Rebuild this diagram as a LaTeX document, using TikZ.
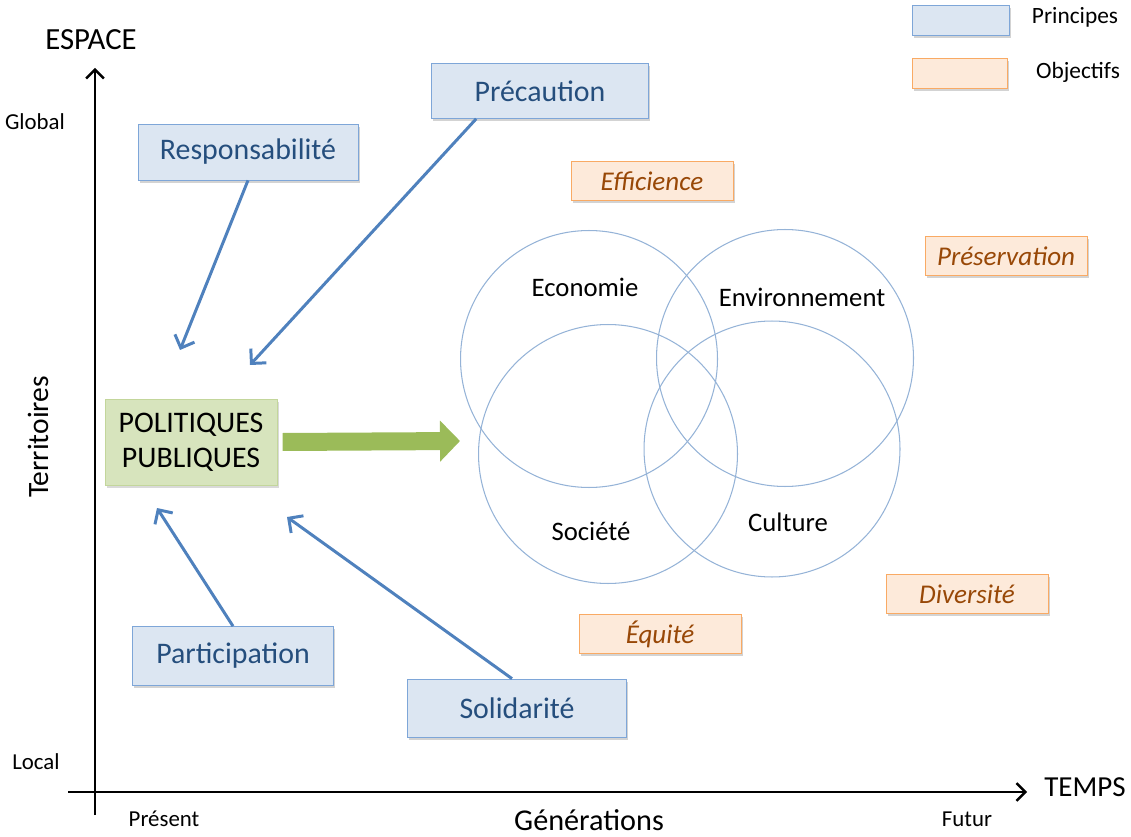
\documentclass[tikz,border=0pt]{standalone}
\usepackage{fontspec}
\setmainfont{Carlito}
\usepackage{tikz}
\usetikzlibrary{arrows.meta,shadows}

\definecolor{prinfill}{RGB}{220,230,242}
\definecolor{prindraw}{RGB}{126,166,216}
\definecolor{printext}{RGB}{37,78,125}
\definecolor{objfill}{RGB}{253,234,218}
\definecolor{objdraw}{RGB}{249,170,100}
\definecolor{objtext}{RGB}{152,72,7}
\definecolor{polfill}{RGB}{215,228,189}
\definecolor{poldraw}{RGB}{195,214,155}
\definecolor{flow}{RGB}{155,187,89}
\definecolor{link}{RGB}{79,129,189}
\definecolor{ring}{RGB}{149,179,215}

\tikzset{
  principe/.style={draw=prindraw, fill=prinfill, text=printext, font=\fontsize{17}{20}\selectfont,
    inner sep=0pt, drop shadow={opacity=0.35, shadow xshift=1pt, shadow yshift=-1.5pt}},
  objectif/.style={draw=objdraw, fill=objfill, text=objtext, font=\fontsize{15.4}{18}\selectfont\itshape,
    inner sep=0pt, minimum width=3.24cm, minimum height=0.78cm,
    drop shadow={opacity=0.35, shadow xshift=1pt, shadow yshift=-1.5pt}},
  pointe/.style={link, line width=1.7pt, -{Straight Barb[length=6pt, width=12pt]}},
  sphere/.style={font=\fontsize{15.2}{18}\selectfont},
  petit/.style={font=\fontsize{13}{15}\selectfont}
}

\begin{document}
\begin{tikzpicture}[x=0.02cm, y=-0.02cm]
  \useasboundingbox (0,0) rectangle (1131,837);

  % axes
  \draw[line width=1.4pt, -{Straight Barb[length=5pt, width=10pt]}] (95,815) -- (95,68);
  \draw[line width=1.4pt, -{Straight Barb[length=5pt, width=10pt]}] (68,792) -- (1027,792);
  \node[font=\fontsize{17.5}{20}\selectfont] (espace) at (91,40) {ESPACE};
  \node[font=\fontsize{16.5}{20}\selectfont] (temps) at (1085,787) {TEMPS};
  \node[petit] (global) at (35,122) {Global};
  \node[petit] (local) at (36,762) {Local};
  \node[font=\fontsize{16.8}{20}\selectfont, rotate=90] (terr) at (38,437) {Territoires};
  \node[petit] (present) at (164,819) {Présent};
  \node[petit] (futur) at (967,819) {Futur};
  \node[font=\fontsize{17.2}{20}\selectfont] (gen) at (589,820) {Générations};

  % legende
  \node[principe, minimum width=1.94cm, minimum height=0.6cm] (legp) at (961,20) {};
  \node[objectif, minimum width=1.9cm, minimum height=0.6cm] (lego) at (960,73) {};
  \node[font=\fontsize{13.3}{16}\selectfont] (txtp) at (1075,17) {Principes};
  \node[font=\fontsize{13.3}{16}\selectfont] (txto) at (1078,72) {Objectifs};

  % principes
  \node[principe, minimum width=4.34cm, minimum height=1.1cm] (prec) at (540,91) {Précaution};
  \node[principe, minimum width=4.4cm, minimum height=1.12cm] (resp) at (248,152) {Responsabilité};
  \node[principe, minimum width=4.02cm, minimum height=1.18cm] (part) at (233,656) {Participation};
  \node[principe, minimum width=4.38cm, minimum height=1.16cm] (soli) at (517,708) {Solidarité};

  % objectifs
  \node[objectif] (effi) at (652,181) {Efficience};
  \node[objectif] (pres) at (1006,256) {Préservation};
  \node[objectif] (dive) at (967,594) {Diversité};
  \node[objectif] (equi) at (660,634) {Équité};

  % politiques publiques
  \node[draw=poldraw, fill=polfill, minimum width=3.44cm, minimum height=1.72cm, inner sep=0pt,
    align=center, font=\fontsize{17}{20}\selectfont, drop shadow={opacity=0.3, shadow xshift=1pt, shadow yshift=-1.5pt}]
    (pol) at (191,442) {POLITIQUES\\PUBLIQUES};

  % cercles
  \draw[ring, line width=0.6pt] (589,359) circle[radius=2.57cm];
  \draw[ring, line width=0.6pt] (785,358) circle[radius=2.57cm];
  \draw[ring, line width=0.6pt] (608,454) circle[radius=2.59cm];
  \draw[ring, line width=0.6pt] (772,449) circle[radius=2.56cm];
  \node[sphere] (eco) at (585,287) {Economie};
  \node[sphere] (env) at (802,297) {Environnement};
  \node[sphere] (soc) at (591,531) {Société};
  \node[sphere] (cul) at (788,522) {Culture};

  % fleches
  \coordinate (cresp) at (180,350);
  \coordinate (cprec) at (250,365);
  \coordinate (cpart) at (157,508);
  \coordinate (csoli) at (287,517);
  \coordinate (cvers) at (460,441);
  \draw[pointe] (resp.south) -- (cresp);
  \draw[pointe] (prec.south west) ++(45,0) -- (cprec);
  \draw[pointe] (part.north) -- (cpart);
  \draw[pointe] (soli.north) ++(-5,0) -- (csoli);
  \draw[flow, line width=0.36cm, -{Triangle[length=0.4cm, width=0.8cm]}] ([xshift=3pt]pol.east) -- (cvers);
\end{tikzpicture}
\end{document}
